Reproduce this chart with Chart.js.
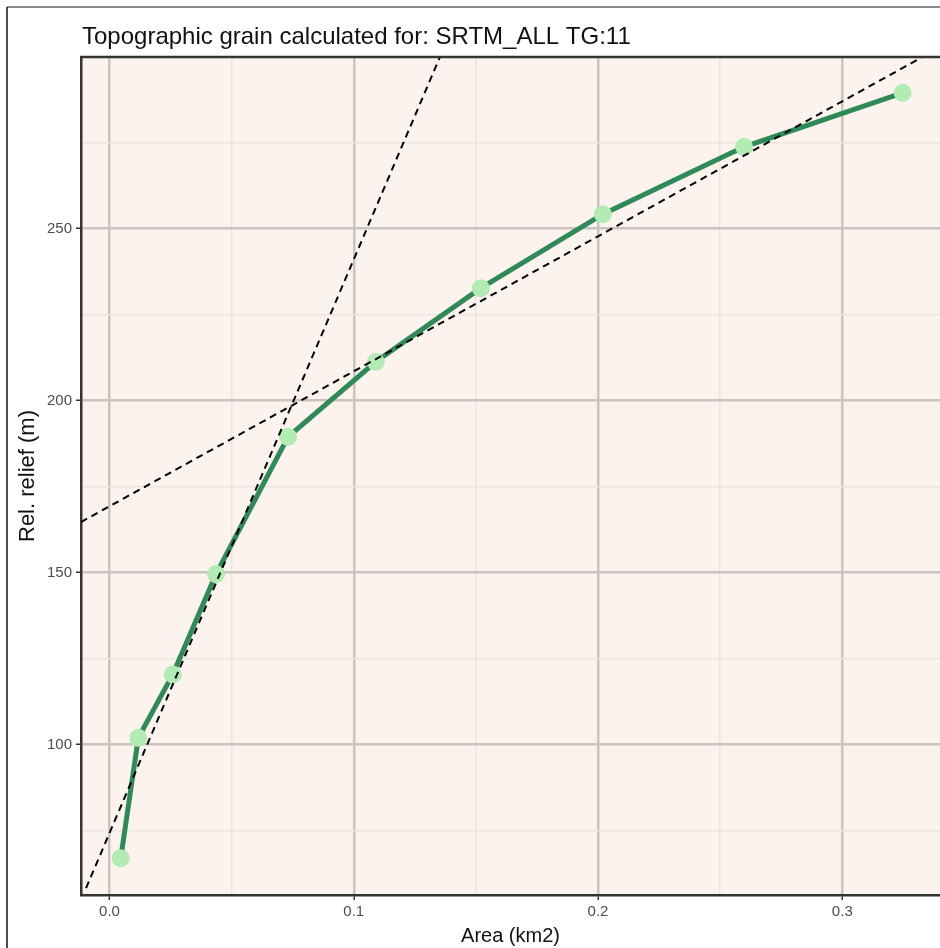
<!DOCTYPE html>
<html>
<head>
<meta charset="utf-8">
<script src="https://cdn.jsdelivr.net/npm/chart.js@4/dist/chart.umd.min.js"></script>
<style>
  html, body { margin: 0; padding: 0; background: #fff; }
  #wrap { width: 940px; height: 948px; position: relative; }
</style>
</head>
<body>
<div id="wrap"><canvas id="grainChart" width="940" height="948"></canvas></div>
<script>
// data
const areaKm2 = [0.0046, 0.0118, 0.0259, 0.0436, 0.0731, 0.109, 0.152, 0.202, 0.2598, 0.3247];
const reliefM = [67.0, 102.0, 120.4, 149.6, 189.5, 211.3, 232.7, 254.2, 273.8, 289.5];

// the two dashed fit lines (end points as seen in the plot)
const steepFitX = [-0.0096, 0.1357];
const steepFitY = [58.3, 300.6];
const flatFitX = [-0.0117, 0.3346];
const flatFitY = [164.7, 300.6];

const xMajorTicks = [0.0, 0.1, 0.2, 0.3];
const yMajorTicks = [100, 150, 200, 250];

const chartTitle = 'Topographic grain calculated for: SRTM_ALL TG:11';

const toPoints = (xs, ys) => xs.map((x, i) => ({ x: x, y: ys[i] }));
const isMajor = (v, list) => list.some(t => Math.abs(t - v) < 1e-6);

const FONT = '"Liberation Sans", Arial, sans-serif';

// panel background, border lines and the left aligned title
const panelPlugin = {
  id: 'panel',
  beforeDraw(chart) {
    const { ctx, chartArea: a } = chart;
    ctx.save();
    ctx.fillStyle = '#fdf3ee';
    ctx.fillRect(a.left, a.top, a.right - a.left, a.bottom - a.top);
    ctx.restore();
  },
  afterDraw(chart) {
    const { ctx, chartArea: a } = chart;
    ctx.save();
    // outer frame of the picture
    ctx.strokeStyle = '#8a8a8a';
    ctx.lineWidth = 2;
    ctx.beginPath();
    ctx.moveTo(7, 7); ctx.lineTo(940, 7);
    ctx.stroke();
    ctx.strokeStyle = '#111';
    ctx.lineWidth = 1.5;
    ctx.beginPath();
    ctx.moveTo(7, 7); ctx.lineTo(7, 948);
    ctx.stroke();
    // panel top border
    ctx.strokeStyle = '#333';
    ctx.lineWidth = 2.5;
    ctx.beginPath();
    ctx.moveTo(a.left - 1, a.top); ctx.lineTo(a.right, a.top);
    ctx.stroke();
    // title
    ctx.fillStyle = '#111';
    ctx.font = '24px ' + FONT;
    ctx.textBaseline = 'middle';
    ctx.textAlign = 'left';
    ctx.fillText(chartTitle, a.left + 1, 37);
    ctx.restore();
  }
};

document.addEventListener('DOMContentLoaded', function() {
  const ctx = document.getElementById('grainChart').getContext('2d');
  new Chart(ctx, {
    type: 'scatter',
    data: {
      datasets: [
        {
          label: 'fit steep',
          data: toPoints(steepFitX, steepFitY),
          showLine: true,
          borderColor: '#000',
          borderWidth: 2,
          borderDash: [7, 5],
          pointRadius: 0,
          order: 0
        },
        {
          label: 'fit flat',
          data: toPoints(flatFitX, flatFitY),
          showLine: true,
          borderColor: '#000',
          borderWidth: 2,
          borderDash: [7, 5],
          pointRadius: 0,
          order: 0
        },
        {
          label: 'Relief',
          data: toPoints(areaKm2, reliefM),
          showLine: true,
          borderColor: '#2e8b57',
          borderWidth: 5,
          pointRadius: 9,
          pointBackgroundColor: '#b3ecb3',
          pointBorderWidth: 0,
          pointHoverRadius: 9,
          order: 1
        }
      ]
    },
    options: {
      responsive: false,
      animation: false,
      layout: { autoPadding: false, padding: { top: 57, right: 0, left: 8, bottom: 0 } },
      plugins: {
        legend: { display: false },
        title: { display: false },
        tooltip: { enabled: false }
      },
      scales: {
        x: {
          type: 'linear',
          min: -0.01167,
          max: 0.34,
          border: { color: '#333', width: 2.5 },
          afterFit: s => { s.height = 53; },
          grid: {
            color: c => isMajor(c.tick.value, xMajorTicks) ? '#cbc3bf' : '#ede4e0',
            lineWidth: c => isMajor(c.tick.value, xMajorTicks) ? 2.5 : 1.5,
            tickColor: c => isMajor(c.tick.value, xMajorTicks) ? '#333' : 'rgba(0,0,0,0)',
            tickLength: 5,
            tickWidth: 1.5
          },
          ticks: {
            stepSize: 0.05,
            includeBounds: false,
            autoSkip: false,
            maxRotation: 0,
            padding: 3,
            color: '#4d4d4d',
            font: { family: FONT, size: 15 },
            callback: v => isMajor(v, xMajorTicks) ? v.toFixed(1) : ''
          },
          title: {
            display: true,
            text: 'Area (km2)',
            color: '#111',
            font: { family: FONT, size: 20 },
            padding: { top: 0, bottom: 0 }
          }
        },
        y: {
          type: 'linear',
          min: 56.3,
          max: 299.9,
          border: { color: '#333', width: 2.5 },
          afterFit: s => { s.width = 73; },
          grid: {
            color: c => isMajor(c.tick.value, yMajorTicks) ? '#cbc3bf' : '#ede4e0',
            lineWidth: c => isMajor(c.tick.value, yMajorTicks) ? 2.5 : 1.5,
            tickColor: c => isMajor(c.tick.value, yMajorTicks) ? '#333' : 'rgba(0,0,0,0)',
            tickLength: 5,
            tickWidth: 1.5
          },
          ticks: {
            stepSize: 25,
            includeBounds: false,
            autoSkip: false,
            padding: 4,
            color: '#4d4d4d',
            font: { family: FONT, size: 15 },
            callback: v => isMajor(v, yMajorTicks) ? String(v) : ''
          },
          title: {
            display: true,
            text: 'Rel. relief (m)',
            color: '#111',
            font: { family: FONT, size: 22 },
            padding: { top: 7, bottom: 0 }
          }
        }
      }
    },
    plugins: [panelPlugin]
  });
});
</script>
</body>
</html>
